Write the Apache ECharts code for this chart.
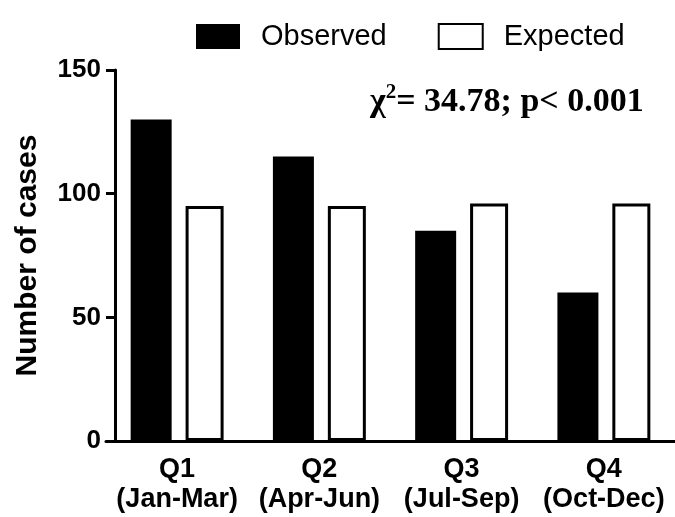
<!DOCTYPE html>
<html>
<head>
<meta charset="utf-8">
<script src="https://cdn.jsdelivr.net/npm/echarts@6/dist/echarts.min.js"></script>
<style>html,body{margin:0;padding:0;background:#fff;}#c{width:675px;height:517px;}</style>
</head>
<body>
<div id="c"></div>
<script>
const categories = ['Q1\n(Jan-Mar)', 'Q2\n(Apr-Jun)', 'Q3\n(Jul-Sep)', 'Q4\n(Oct-Dec)'];
const observed = [130, 115, 85, 60];
const expected = [95, 95, 96, 96];
const yTicks = [0, 50, 100, 150];
const seriesNames = ['Observed', 'Expected'];
const yTitle = 'Number of cases';

const chart = echarts.init(document.getElementById('c'), null, {renderer: 'canvas'});
chart.setOption({
  animation: false,
  backgroundColor: '#fff',
  legend: {
    top: 17,
    left: 191,
    itemWidth: 44,
    itemHeight: 25,
    itemGap: 51,
    icon: 'rect',
    textStyle: {fontFamily: 'Liberation Sans', fontSize: 29, color: '#000', padding: [0, 0, 0, 16]},
    data: seriesNames
  },
  grid: {left: 106, right: -6, top: 70, bottom: 76, containLabel: false},
  xAxis: {
    type: 'category',
    data: categories,
    axisLine: {lineStyle: {color: '#000', width: 3}},
    axisTick: {alignWithLabel: true, length: 9, lineStyle: {color: '#000', width: 3}},
    axisLabel: {interval: 0, color: '#000', fontFamily: 'Liberation Sans', fontWeight: 'bold', fontSize: 27, lineHeight: 30, margin: 14}
  },
  yAxis: {
    type: 'value',
    min: 0, max: 150, interval: 50,
    offset: -9,
    name: yTitle,
    nameLocation: 'middle',
    nameGap: 72,
    nameTextStyle: {color: '#000', fontFamily: 'Liberation Sans', fontWeight: 'bold', fontSize: 30},
    axisLine: {show: true, lineStyle: {color: '#000', width: 3}},
    axisTick: {show: true, length: 9, lineStyle: {color: '#000', width: 3}},
    splitLine: {show: false},
    axisLabel: {color: '#000', fontFamily: 'Liberation Sans', fontWeight: 'bold', fontSize: 26, margin: 14,
      formatter: v => yTicks.includes(v) ? String(v) : ''}
  },
  graphic: [{
    type: 'text',
    left: 370,
    top: 82,
    style: {
      text: '{a|χ}{s|2}{a|= 34.78; p< 0.001}',
      rich: {
        a: {fontFamily: 'Liberation Serif', fontWeight: 'bold', fontSize: 34, fill: '#000', verticalAlign: 'bottom'},
        s: {fontFamily: 'Liberation Serif', fontWeight: 'bold', fontSize: 21, fill: '#000', verticalAlign: 'top', padding: [0, 0, 16, 0]}
      }
    }
  }],
  series: [
    {name: seriesNames[0], type: 'bar', data: observed, barWidth: 41, barGap: '34%',
      itemStyle: {color: '#000'}},
    {name: seriesNames[1], type: 'bar', data: expected, barWidth: 38,
      itemStyle: {color: '#fff', borderColor: '#000', borderWidth: 3}}
  ]
});
</script>
</body>
</html>
